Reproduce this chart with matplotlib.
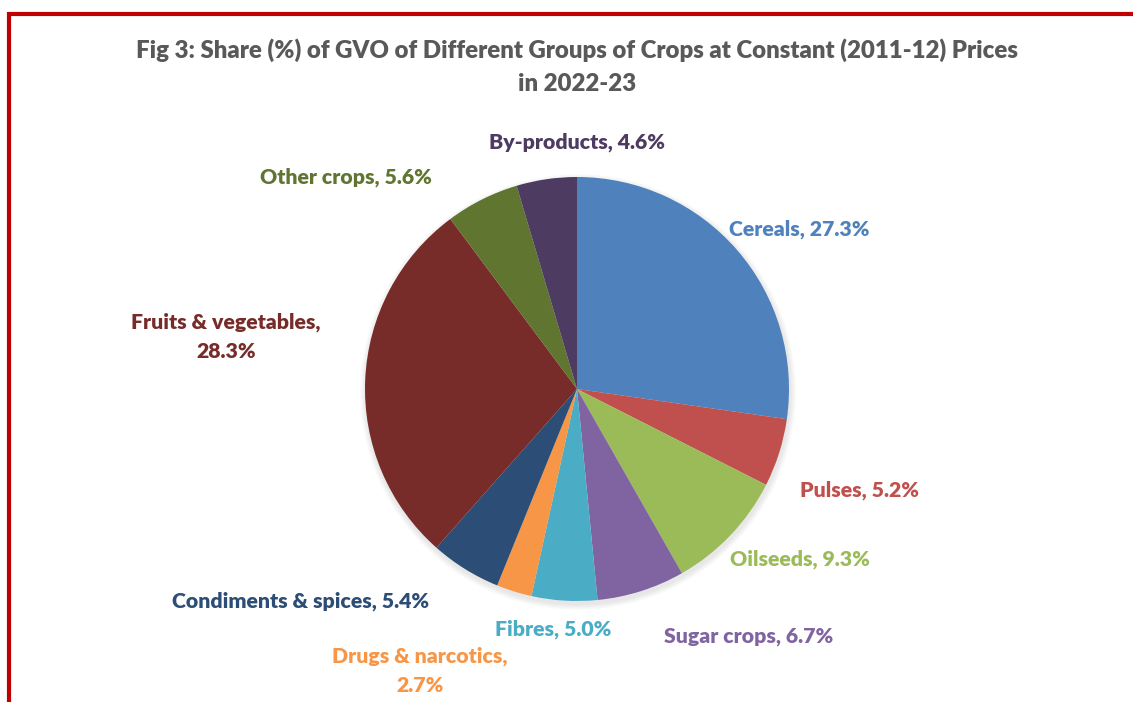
import matplotlib
matplotlib.use("Agg")
import matplotlib.pyplot as plt
import numpy as np

categories = ["Cereals", "Pulses", "Oilseeds", "Sugar crops", "Fibres",
              "Drugs & narcotics", "Condiments & spices", "Fruits & vegetables",
              "Other crops", "By-products"]
shares = [27.3, 5.2, 9.3, 6.7, 5.0, 2.7, 5.4, 28.3, 5.6, 4.6]
label_texts = ["Cereals, 27.3%", "Pulses, 5.2%", "Oilseeds, 9.3%", "Sugar crops, 6.7%",
               "Fibres, 5.0%", "Drugs & narcotics,\n2.7%", "Condiments & spices, 5.4%",
               "Fruits & vegetables,\n28.3%", "Other crops, 5.6%", "By-products, 4.6%"]
title = "Fig 3: Share (%) of GVO of Different Groups of Crops at Constant (2011-12) Prices\nin 2022-23"

colors = ["#4F81BD", "#C0504D", "#9BBB59", "#8064A2", "#4BACC6",
          "#F79646", "#2C4D75", "#772C2A", "#5F7530", "#4D3B62"]
# label centre positions in pixel space (x, y from top)
label_pos = [(799, 229), (860, 490), (800, 559), (749, 637), (553, 629),
             (420, 671), (301, 601), (226, 337), (346, 177), (577, 142)]

W, H = 1133, 702
fig = plt.figure(figsize=(W / 100, H / 100), dpi=100)
ax = fig.add_axes([0, 0, 1, 1])

cx, cy, r = 577, H - 389, 212
for i in range(6):
    sh = plt.Circle((cx + 1, cy - 3), r + 1 + i, color="black", alpha=0.015, lw=0)
    ax.add_patch(sh)

ax.pie(shares, colors=colors, startangle=90, counterclock=False,
       center=(cx, cy), radius=r, frame=True,
       wedgeprops=dict(edgecolor="none", linewidth=0))
ax.set_xlim(0, W)
ax.set_ylim(0, H)
ax.set_aspect("equal")
ax.axis("off")

font = "Lato"
for txt, (px, py), c in zip(label_texts, label_pos, colors):
    ax.text(px, H - py, txt, ha="center", va="center", color=c,
            fontsize=15.3, fontweight="heavy", family=font, linespacing=1.65)

ax.text(577, H - 67, title, ha="center", va="center", color="#595959",
        fontsize=17.3, fontweight="heavy", family=font, linespacing=1.62)

ax.plot([8, W + 5], [H - 13.5, H - 13.5], color="#C00000", lw=3, solid_capstyle="butt")
ax.plot([8.5, 8.5], [-5, H - 12], color="#C00000", lw=3, solid_capstyle="butt")

fig.savefig("out.png", dpi=100)
